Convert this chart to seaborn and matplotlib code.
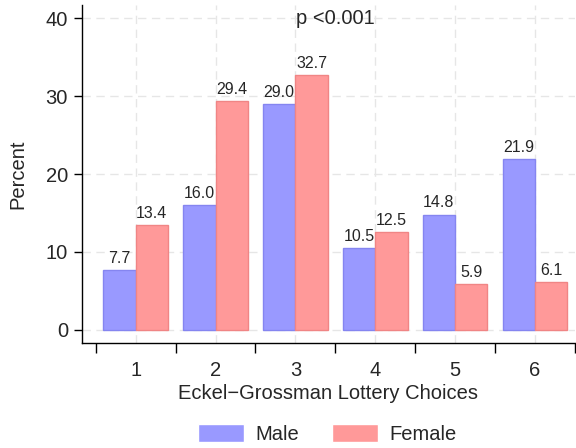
import pandas as pd
import matplotlib
matplotlib.use("Agg")
import matplotlib.pyplot as plt
import seaborn as sns

# Data
choices = ["1", "2", "3", "4", "5", "6"]
male = [7.7, 16.0, 29.0, 10.5, 14.8, 21.9]
female = [13.4, 29.4, 32.7, 12.5, 5.9, 6.1]

df = pd.DataFrame({
    "Choice": choices * 2,
    "Percent": male + female,
    "Sex": ["Male"] * len(choices) + ["Female"] * len(choices),
})

sns.set_style("white")
plt.rcParams["font.family"] = ["Liberation Sans", "DejaVu Sans"]

FS = 14.5

fig = plt.figure(figsize=(5.76, 4.48), dpi=100)
ax = fig.add_axes([0.142, 0.234, 0.856, 0.755])

palette = {"Male": "#9999ff", "Female": "#ff9999"}
sns.barplot(data=df, x="Choice", y="Percent", hue="Sex", palette=palette,
            saturation=1, width=0.81, ax=ax, zorder=3)

edges = {"Male": "#8585f0", "Female": "#f08585"}
for cont, name in zip(ax.containers, ["Male", "Female"]):
    for b in cont:
        b.set_edgecolor(edges[name])
        b.set_linewidth(1.0)
    ax.bar_label(cont, fmt="%.1f", padding=3, fontsize=11.5)

# axes styling
n = len(choices)
ax.set_xlim(-0.675, n - 0.5)
ax.set_ylim(-1.7, 41.7)
ax.set_yticks([0, 10, 20, 30, 40])
ax.set_xticks([i - 0.5 for i in range(n + 1)])
ax.set_xticklabels([])
ax.set_xticks(range(n), choices, minor=True)
ax.tick_params(axis="x", which="major", bottom=True, length=7, width=1,
               color="black", direction="out")
ax.tick_params(axis="x", which="minor", bottom=True, length=0, labelsize=FS, pad=13)
ax.tick_params(axis="y", left=True, length=6, width=1, color="black",
               direction="out", labelsize=FS, pad=4)

ax.grid(False)
ax.yaxis.grid(True, linestyle=(0, (6, 4)), color="#e6e6e6", linewidth=1)
ax.xaxis.grid(True, which="minor", linestyle=(0, (6, 4)), color="#e6e6e6", linewidth=1)
ax.set_axisbelow(True)

for s in ["top", "right"]:
    ax.spines[s].set_visible(False)
for s in ["left", "bottom"]:
    ax.spines[s].set_color("black")
    ax.spines[s].set_linewidth(1)

ax.set_xlabel("Eckel\u2212Grossman Lottery Choices", fontsize=FS, labelpad=3)
ax.set_ylabel("Percent", fontsize=FS, labelpad=13)

ax.text(2.5, 40, "p <0.001", ha="center", va="center", fontsize=FS)

handles, labels = ax.get_legend_handles_labels()
ax.legend_.remove()
fig.legend(handles, labels, loc="center", bbox_to_anchor=(0.568, 0.031), ncol=2,
           frameon=False, fontsize=FS, handlelength=2.3, handleheight=1.0,
           handletextpad=0.55, columnspacing=1.65)

fig.savefig("out.png", dpi=100)
